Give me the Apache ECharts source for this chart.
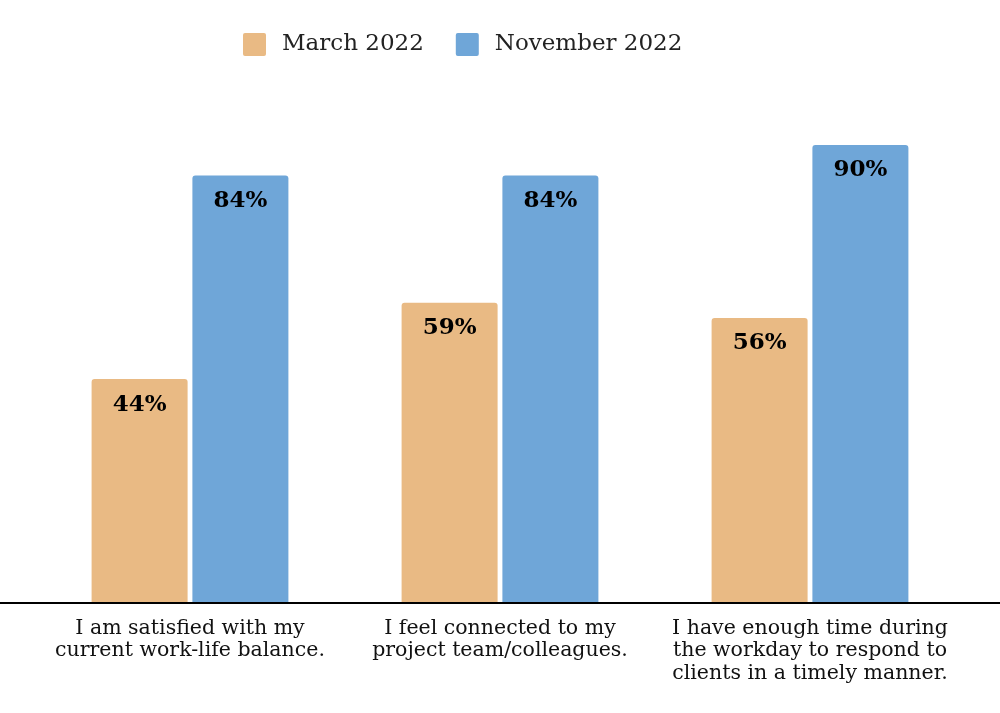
<!DOCTYPE html>
<html><head><meta charset="utf-8">
<script src="https://cdn.jsdelivr.net/npm/echarts@6/dist/echarts.min.js"></script>
<style>html,body{margin:0;padding:0;background:#fff}#c{width:1000px;height:713px}</style>
</head><body><div id="c"></div>
<script>
const categories = [
  'I am satisfied with my\ncurrent work-life balance.',
  'I feel connected to my\nproject team/colleagues.',
  'I have enough time during\nthe workday to respond to\nclients in a timely manner.'
];
const seriesNames = ['March 2022', 'November 2022'];
const march2022 = [44, 59, 56];
const november2022 = [84, 84, 90];

const FONT = '"DejaVu Serif", "Liberation Serif", serif';
const chart = echarts.init(document.getElementById('c'));
const label = {
  show: true, position: 'insideTop', distance: 14,
  formatter: p => p.value + '%',
  color: '#000', fontFamily: FONT, fontWeight: 'bold', fontSize: 23
};
chart.setOption({
  animation: false,
  legend: {
    top: 28, left: 238, itemWidth: 23, itemHeight: 23, itemGap: 32,
    icon: 'path://M2,0 H21 Q23,0 23,2 V21 Q23,23 21,23 H2 Q0,23 0,21 V2 Q0,0 2,0 Z',
    textStyle: { fontFamily: FONT, fontSize: 23, color: '#222', padding: [0, 0, 0, 11] },
    data: seriesNames
  },
  grid: { left: 35, right: 35, top: 94, bottom: 110 },
  xAxis: {
    type: 'category', data: categories,
    axisLine: { show: false }, axisTick: { show: false },
    axisLabel: { interval: 0, margin: 14, color: '#111', fontFamily: FONT, fontSize: 20.5, lineHeight: 22.5, align: 'center' }
  },
  yAxis: { type: 'value', min: 0, max: 100, show: false, splitLine: { show: false } },
  series: [
    { name: seriesNames[0], type: 'bar', data: march2022, barWidth: 96, barGap: '5%',
      itemStyle: { color: '#E9BA84', borderRadius: [3, 3, 0, 0] }, label: label },
    { name: seriesNames[1], type: 'bar', data: november2022, barWidth: 96,
      itemStyle: { color: '#6FA6D8', borderRadius: [3, 3, 0, 0] }, label: label }
  ],
  graphic: [{ type: 'line', shape: { x1: 0, y1: 603, x2: 1000, y2: 603 }, style: { stroke: '#000', lineWidth: 2 }, z: 10 }]
});
</script></body></html>
